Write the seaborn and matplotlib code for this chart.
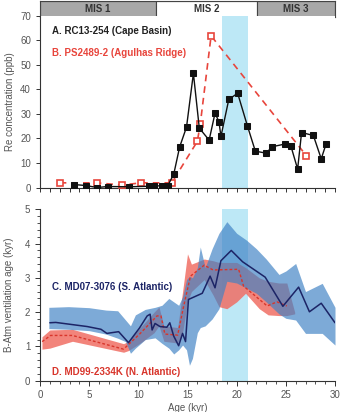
import numpy as np
import pandas as pd
import matplotlib
matplotlib.use("Agg")
import matplotlib.pyplot as plt
from matplotlib.ticker import MultipleLocator
import seaborn as sns

# ---------------- data ----------------
# A. RC13-254 (Cape Basin) Re concentration
re_a_age = [3.5, 4.66, 5.8, 6.9, 9.1, 11.1, 11.6, 12.4, 13.0, 13.6, 14.2, 14.9, 15.6, 16.2,
            17.2, 17.8, 18.2, 18.4, 19.2, 20.1, 21.1, 21.9, 23.0, 23.6, 24.9, 25.5, 26.2,
            26.6, 27.8, 28.6, 29.1]
re_a_val = [1.2, 0.8, 0.0, 0.4, 0.3, 0.5, 0.5, 0.8, 0.8, 5.4, 16.5, 24.6, 46.5, 24.2,
            19.3, 30.3, 26.8, 20.8, 35.9, 38.4, 25.0, 14.8, 14.0, 16.6, 17.7, 17.1, 7.5,
            22.4, 21.2, 11.7, 17.8]
# B. PS2489-2 (Agulhas Ridge)
re_b_age = [2.0, 5.8, 8.3, 10.3, 13.4, 16.0, 16.3, 17.4, 27.1]
re_b_val = [1.9, 1.9, 1.0, 1.9, 1.9, 18.8, 25.9, 61.8, 12.9]

# C. MD07-3076 (S. Atlantic) ventilation age
c_age = [1.0, 1.6, 4.8, 6.2, 6.8, 8.0, 9.0, 10.1, 10.9, 11.2, 11.4, 11.7, 12.2, 12.9, 13.2,
         13.6, 14.1, 14.5, 14.8, 15.1, 16.5, 17.3, 17.8, 18.4, 19.45, 20.6, 22.9, 24.7,
         26.3, 27.4, 28.6, 30.0]
c_val = [1.69, 1.70, 1.58, 1.50, 1.38, 1.43, 1.11, 1.53, 1.89, 1.94, 1.48, 1.67, 1.58, 1.56,
         1.69, 1.30, 1.02, 1.38, 1.14, 2.37, 2.55, 3.05, 2.71, 3.50, 3.80, 3.47, 3.02, 2.17,
         2.73, 2.01, 2.26, 1.69]
c_band_age = [0.9, 2.9, 5.0, 6.7, 7.9, 8.7, 9.2, 9.7, 10.7, 11.7, 12.4, 13.1, 13.6, 14.1,
              14.5, 14.9, 15.2, 15.5, 16.0, 16.3, 16.8, 17.5, 18.2, 19.0, 20.0, 21.0, 22.0,
              23.0, 24.3, 25.0, 26.0, 27.0, 28.7, 30.0]
c_band_lo = [1.52, 1.50, 1.46, 1.36, 1.24, 1.14, 0.80, 0.95, 1.20, 1.25, 1.09, 0.95, 0.78,
             0.90, 1.04, 0.90, 0.45, 0.65, 1.40, 1.55, 1.60, 1.80, 2.10, 2.90, 2.85, 2.70,
             2.55, 2.30, 1.95, 1.82, 1.77, 1.38, 1.38, 1.04]
c_band_hi = [2.14, 2.16, 2.13, 2.06, 2.04, 1.77, 1.60, 1.92, 2.08, 2.14, 2.20, 2.40, 2.30,
             2.20, 2.45, 2.95, 3.05, 3.00, 3.30, 3.90, 3.30, 3.85, 4.30, 4.64, 4.30, 4.10,
             3.85, 3.55, 3.10, 3.20, 3.42, 2.60, 2.84, 2.14]

# D. MD99-2334K (N. Atlantic)
d_age = [0.22, 1.07, 3.3, 8.5, 10.2, 11.9, 12.3, 12.7, 14.0, 14.6, 15.3, 16.7, 17.6, 20.2,
         20.7, 23.1, 24.1, 25.1]
d_val = [1.14, 1.32, 1.32, 0.92, 1.38, 1.89, 1.89, 1.36, 1.33, 2.16, 3.05, 3.37, 3.23, 3.25,
         2.76, 2.18, 2.30, 2.18]
d_band_age = [0.2, 1.0, 3.3, 8.5, 9.0, 10.2, 11.6, 12.1, 12.6, 14.0, 14.5, 15.0, 15.4, 16.7,
              17.6, 18.2, 19.0, 20.0, 20.9, 22.3, 23.2, 24.3, 25.1, 25.9]
d_band_lo = [0.92, 0.95, 1.15, 0.83, 0.88, 1.10, 1.40, 1.60, 1.15, 1.10, 1.40, 2.30, 2.60,
             2.95, 2.50, 2.16, 2.10, 2.30, 2.55, 2.10, 1.92, 1.90, 1.90, 1.95]
d_band_hi = [1.28, 1.48, 1.50, 1.08, 1.15, 1.55, 2.00, 2.15, 1.60, 1.55, 2.60, 3.70, 3.40,
             3.55, 3.50, 3.45, 3.45, 3.45, 3.30, 3.00, 2.90, 2.85, 2.85, 2.00]

mis_labels = ["MIS 1", "MIS 2", "MIS 3"]
mis_start = [0.0, 11.8, 22.1]
mis_end = [11.8, 22.1, 30.0]
lgm_start, lgm_end = 18.5, 21.2

# ---------------- style ----------------
sns.set_style("ticks")
plt.rcParams["font.family"] = ["Liberation Sans", "DejaVu Sans"]
plt.rcParams["axes.edgecolor"] = "#333333"
plt.rcParams["xtick.color"] = "#333333"
plt.rcParams["ytick.color"] = "#333333"
plt.rcParams["xtick.labelcolor"] = "#555555"
plt.rcParams["ytick.labelcolor"] = "#555555"

fig = plt.figure(figsize=(3.44, 4.12), dpi=100)
L, R = 40 / 344, 335 / 344
ax_mis = fig.add_axes([L, 1 - 16.7 / 412, R - L, 15.7 / 412])
ax1 = fig.add_axes([L, 1 - 187.5 / 412, R - L, (187.5 - 15.7) / 412])
ax2 = fig.add_axes([L, 1 - 380.7 / 412, R - L, (380.7 - 209.3) / 412])

red_top = "#e8453c"
black = "#111111"
navy = "#1c2466"
red_d = "#d8352b"

# MIS bar
for lab, s, e in zip(mis_labels, mis_start, mis_end):
    fc = "white" if lab == "MIS 2" else "#a8a8a8"
    ax_mis.axvspan(s, e, facecolor=fc, edgecolor="#444444", lw=0.8)
    ax_mis.text((s + e) / 2, 0.5, lab, ha="center", va="center", fontsize=7,
                fontweight="bold", color="#333333")
ax_mis.set_xlim(0, 30)
ax_mis.set_ylim(0, 1)
ax_mis.set_xticks([])
ax_mis.set_yticks([])
for sp in ax_mis.spines.values():
    sp.set_color("#444444")
    sp.set_linewidth(0.8)

# ---------------- top panel ----------------
ax1.axvspan(lgm_start, lgm_end, color="#bde8f6", lw=0, zorder=0)
dfa = pd.DataFrame({"age": re_a_age, "re": re_a_val})
dfb = pd.DataFrame({"age": re_b_age, "re": re_b_val})
sns.lineplot(data=dfb, x="age", y="re", ax=ax1, color=red_top, lw=1.2,
             linestyle=(0, (4, 3)), marker="s", markersize=5, markerfacecolor="white",
             markeredgecolor=red_top, markeredgewidth=1.2, zorder=3)
sns.lineplot(data=dfa, x="age", y="re", ax=ax1, color=black, lw=1.0,
             marker="s", markersize=4.5, markerfacecolor=black, markeredgecolor=black,
             zorder=4)
ax1.set_xlim(0, 30)
ax1.set_ylim(0, 70)
ax1.yaxis.set_major_locator(MultipleLocator(10))
ax1.xaxis.set_major_locator(MultipleLocator(1))
ax1.set_xticklabels([])
ax1.set_xlabel("")
ax1.set_ylabel("Re concentration (ppb)", fontsize=7, color="#555555", labelpad=4)
ax1.tick_params(axis="both", labelsize=7, length=3, width=0.7)
ax1.spines["top"].set_visible(False)
ax1.spines["right"].set_visible(False)
ax1.text(1.17, 63.9, "A. RC13-254 (Cape Basin)", fontsize=7, fontweight="bold",
         color="#222222", va="center")
ax1.text(1.17, 54.9, "B. PS2489-2 (Agulhas Ridge)", fontsize=7, fontweight="bold",
         color=red_top, va="center")

# ---------------- bottom panel ----------------
ax2.axvspan(lgm_start, lgm_end, color="#bde8f6", lw=0, zorder=0)
ax2.fill_between(d_band_age, d_band_lo, d_band_hi, color="#f06e64", alpha=0.85, lw=0,
                 zorder=1)
ax2.fill_between(c_band_age, c_band_lo, c_band_hi, color="#3f82c4", alpha=0.68, lw=0,
                 zorder=2)
dfc = pd.DataFrame({"age": c_age, "vent": c_val})
dfd = pd.DataFrame({"age": d_age, "vent": d_val})
sns.lineplot(data=dfd, x="age", y="vent", ax=ax2, color=red_d, lw=1.0,
             linestyle=(0, (2, 1.5)), zorder=3)
sns.lineplot(data=dfc, x="age", y="vent", ax=ax2, color=navy, lw=1.1, zorder=4)
ax2.set_xlim(0, 30)
ax2.set_ylim(0, 5)
ax2.xaxis.set_major_locator(MultipleLocator(5))
ax2.xaxis.set_minor_locator(MultipleLocator(1))
ax2.yaxis.set_major_locator(MultipleLocator(1))
ax2.yaxis.set_minor_locator(MultipleLocator(0.2))
ax2.set_xlabel("Age (kyr)", fontsize=7, color="#555555", labelpad=1.5)
ax2.set_ylabel("B-Atm ventilation age (kyr)", fontsize=7, color="#555555", labelpad=8)
ax2.tick_params(axis="both", which="major", labelsize=7, length=3.5, width=0.7)
ax2.tick_params(axis="both", which="minor", length=2, width=0.6)
ax2.spines["top"].set_visible(False)
ax2.spines["right"].set_visible(False)
ax2.text(1.17, 2.73, "C. MD07-3076 (S. Atlantic)", fontsize=7, fontweight="bold",
         color=navy, va="center")
ax2.text(1.17, 0.25, "D. MD99-2334K (N. Atlantic)", fontsize=7, fontweight="bold",
         color=red_d, va="center")

fig.savefig("out.png", dpi=100)
